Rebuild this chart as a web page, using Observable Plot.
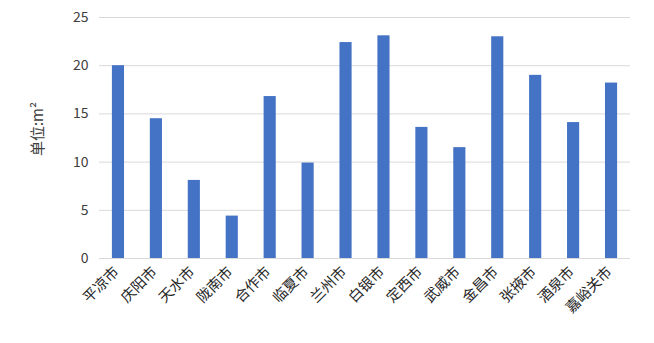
<!DOCTYPE html>
<html><head><meta charset="utf-8">
<script src="https://cdn.jsdelivr.net/npm/d3@7"></script>
<script src="https://cdn.jsdelivr.net/npm/@observablehq/plot@0.6"></script>
<style>
body{margin:0;background:#fff;}
#chart svg{font-family:"Noto Sans CJK SC","Noto Sans",sans-serif;}
</style>
</head><body><div id="chart"></div>
<script>
const cities = ["平凉市","庆阳市","天水市","陇南市","合作市","临夏市","兰州市","白银市","定西市","武威市","金昌市","张掖市","酒泉市","嘉峪关市"];
const values = [20.0,14.5,8.1,4.4,16.8,9.9,22.4,23.1,13.6,11.5,23.0,19.0,14.1,18.2];
const yTicks = [0,5,10,15,20,25];
const yLabel = "单位:m²";

const data = cities.map((c,i)=>({city:c, value:values[i]}));

const chart = Plot.plot({
  width:654, height:343,
  marginLeft:99, marginRight:24, marginTop:17, marginBottom:85,
  style:{fontFamily:'"Noto Sans CJK SC","Noto Sans",sans-serif', fontSize:"12px", color:"#404040", background:"#fff"},
  x:{domain:cities, paddingInner:0.68, paddingOuter:0.34, align:0.5, round:false},
  y:{domain:[0,25]},
  marks:[
    Plot.gridY(yTicks, {stroke:"#d9d9d9", strokeOpacity:1, strokeWidth:1}),
    Plot.barY(data, {x:"city", y:"value", fill:"#4472C4"}),
    Plot.axisY(yTicks, {tickSize:0, tickPadding:11, label:null, fontSize:14, fill:"#404040"}),
    Plot.axisX({tickSize:0, tickRotate:-45, tickPadding:11, dx:-2, label:null, fontSize:14.5, fill:"#262626"}),
    Plot.text([yLabel], {frameAnchor:"left", textAnchor:"middle", rotate:-90, dx:-61, dy:-9, fontSize:15, fill:"#404040"})
  ]
});
document.getElementById("chart").append(chart);
</script>
</body></html>
